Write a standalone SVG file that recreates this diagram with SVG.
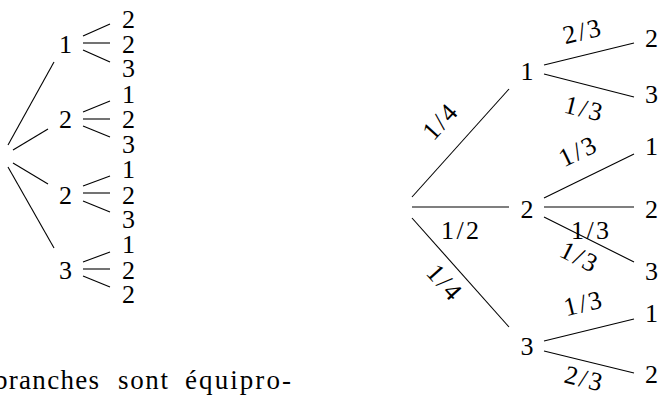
<svg xmlns="http://www.w3.org/2000/svg" width="660" height="396" viewBox="0 0 660 396">
<style>
text{font-family:"Liberation Serif","Times New Roman",serif;font-size:26px;fill:#000}
.n{text-anchor:middle}
.f{text-anchor:middle}
.c{font-size:27px}
line{stroke:#000;stroke-width:1.1;fill:none}
</style>
<rect width="660" height="396" fill="#fff"/>
<g id="connectors">
  <line x1="8" y1="145" x2="54" y2="62"/>
  <line x1="13" y1="150" x2="48" y2="129"/>
  <line x1="13" y1="163" x2="48" y2="184"/>
  <line x1="8" y1="167" x2="54" y2="248"/>
  <line x1="83" y1="36" x2="110" y2="24"/>
  <line x1="83" y1="43" x2="110" y2="43"/>
  <line x1="83" y1="50" x2="110" y2="62"/>
  <line x1="83" y1="112" x2="110" y2="101"/>
  <line x1="83" y1="119" x2="110" y2="119"/>
  <line x1="83" y1="126" x2="110" y2="137"/>
  <line x1="83" y1="186" x2="110" y2="176"/>
  <line x1="83" y1="193" x2="110" y2="193"/>
  <line x1="83" y1="201" x2="110" y2="212"/>
  <line x1="83" y1="262" x2="110" y2="252"/>
  <line x1="83" y1="269" x2="110" y2="269"/>
  <line x1="83" y1="276" x2="110" y2="287"/>
  <line x1="412" y1="197" x2="509" y2="89"/>
  <line x1="412" y1="207" x2="509" y2="207"/>
  <line x1="412" y1="218" x2="509" y2="327"/>
  <line x1="544" y1="65" x2="634" y2="43"/>
  <line x1="544" y1="74" x2="634" y2="97"/>
  <line x1="544" y1="198" x2="634" y2="154"/>
  <line x1="544" y1="207" x2="634" y2="207"/>
  <line x1="544" y1="217" x2="634" y2="262"/>
  <line x1="544" y1="341" x2="634" y2="319"/>
  <line x1="544" y1="351" x2="634" y2="373"/>
  <g id="edge-labels">
    <text class="f" transform="translate(441,123) rotate(-48)" y="7" textLength="38" lengthAdjust="spacing">1/4</text>
    <text class="f" transform="translate(460,232)" y="7" textLength="38" lengthAdjust="spacing">1/2</text>
    <text class="f" transform="translate(443,283) rotate(48)" y="7" textLength="38" lengthAdjust="spacing">1/4</text>
    <text class="f" transform="translate(582,33) rotate(-13.7)" y="7" textLength="38" lengthAdjust="spacing">2/3</text>
    <text class="f" transform="translate(583,110) rotate(14)" y="7" textLength="38" lengthAdjust="spacing">1/3</text>
    <text class="f" transform="translate(578,153) rotate(-26)" y="7" textLength="38" lengthAdjust="spacing">1/3</text>
    <text class="f" transform="translate(590,232)" y="7" textLength="38" lengthAdjust="spacing">1/3</text>
    <text class="f" transform="translate(578,258) rotate(26.6)" y="7" textLength="38" lengthAdjust="spacing">1/3</text>
    <text class="f" transform="translate(583,305) rotate(-13.7)" y="7" textLength="38" lengthAdjust="spacing">1/3</text>
    <text class="f" transform="translate(583,380) rotate(13.7)" y="7" textLength="38" lengthAdjust="spacing">2/3</text>
  </g>
</g>
<g id="L1"><text class="n" x="65.5" y="53">1</text></g>
<g id="L2"><text class="n" x="65.5" y="128">2</text></g>
<g id="L3"><text class="n" x="65.5" y="204">2</text></g>
<g id="L4"><text class="n" x="65.5" y="279">3</text></g>
<g id="L1a"><text class="n" x="128.5" y="28">2</text></g>
<g id="L1b"><text class="n" x="128.5" y="53">2</text></g>
<g id="L1c"><text class="n" x="128.5" y="77">3</text></g>
<g id="L2a"><text class="n" x="128.5" y="103">1</text></g>
<g id="L2b"><text class="n" x="128.5" y="128">2</text></g>
<g id="L2c"><text class="n" x="128.5" y="153">3</text></g>
<g id="L3a"><text class="n" x="128.5" y="178">1</text></g>
<g id="L3b"><text class="n" x="128.5" y="204">2</text></g>
<g id="L3c"><text class="n" x="128.5" y="228">3</text></g>
<g id="L4a"><text class="n" x="128.5" y="253">1</text></g>
<g id="L4b"><text class="n" x="128.5" y="279">2</text></g>
<g id="L4c"><text class="n" x="128.5" y="303">2</text></g>
<g id="R1"><text class="n" x="527" y="80">1</text></g>
<g id="R2"><text class="n" x="527" y="218">2</text></g>
<g id="R3"><text class="n" x="527" y="355">3</text></g>
<g id="R1a"><text class="n" x="651.5" y="47">2</text></g>
<g id="R1b"><text class="n" x="651.5" y="103">3</text></g>
<g id="R2a"><text class="n" x="651.5" y="155">1</text></g>
<g id="R2b"><text class="n" x="651.5" y="218">2</text></g>
<g id="R2c"><text class="n" x="651.5" y="280">3</text></g>
<g id="R3a"><text class="n" x="651.5" y="322">1</text></g>
<g id="R3b"><text class="n" x="651.5" y="383">2</text></g>
<g id="caption">
  <text class="c" x="-6" y="389" textLength="105" lengthAdjust="spacing">branches</text>
  <text class="c" x="118" y="389" textLength="50" lengthAdjust="spacing">sont</text>
  <text class="c" x="185" y="389" textLength="106" lengthAdjust="spacing">équipro-</text>
</g>
</svg>
